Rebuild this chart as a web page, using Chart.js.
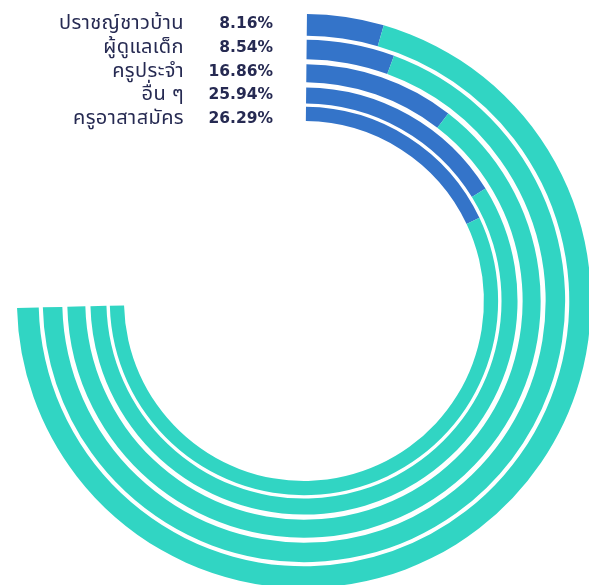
<!DOCTYPE html>
<html>
<head>
<meta charset="utf-8">
<script src="https://cdn.jsdelivr.net/npm/chart.js@4"></script>
<style>
  html, body { margin: 0; padding: 0; background: #fff; }
  body { width: 589px; height: 585px; overflow: hidden; position: relative; font-family: "Noto Sans", sans-serif; }
  #ring { position: absolute; left: 17px; top: 14px; }
  #labels { position: absolute; left: 0; top: 12px; width: 280px; color: #262a52; line-height: 23.75px; }
  .row { position: relative; height: 23.75px; }
  .name { position: absolute; right: 96px; white-space: nowrap; font-family: "Noto Sans Thai", "Noto Sans", sans-serif; font-size: 20px; letter-spacing: 0.4px; }
  .pct { position: absolute; right: 7px; white-space: nowrap; font-family: "DejaVu Sans", sans-serif; font-weight: bold; font-size: 15.5px; }
</style>
</head>
<body>
<canvas id="ring" width="574" height="574"></canvas>
<div id="labels"></div>
<script>
// rings from outside to inside
const categories = ["ปราชญ์ชาวบ้าน", "ผู้ดูแลเด็ก", "ครูประจำ", "อื่น ๆ", "ครูอาสาสมัคร"];
const percentLabels = [8.16, 8.54, 16.86, 25.94, 26.29];
// blue part of each 268° track, in % of the track
const filledShare = [5.8, 7.3, 13.8, 21.5, 23.9];

const blue = "#3474c9";
const teal = "#31d5c3";

// ring thickness and the white gap after each ring
const ringWeights = [21.7, 19.5, 18, 16, 14.2];
const gapWeights = [4.1, 5, 5.1, 3.4];

// labels top left
const box = document.getElementById("labels");
categories.forEach((c, i) => {
  const row = document.createElement("div");
  row.className = "row";
  row.innerHTML = '<span class="name"></span><span class="pct"></span>';
  row.querySelector(".name").textContent = c;
  row.querySelector(".pct").textContent = percentLabels[i].toFixed(2) + "%";
  box.appendChild(row);
});

const datasets = [];
categories.forEach((c, i) => {
  datasets.push({
    label: c,
    data: [filledShare[i], 100 - filledShare[i]],
    backgroundColor: [blue, teal],
    borderWidth: 0,
    weight: ringWeights[i],
  });
  if (i < gapWeights.length) {
    datasets.push({
      label: "",
      data: [100],
      backgroundColor: "rgba(0,0,0,0)",
      borderWidth: 0,
      weight: gapWeights[i],
    });
  }
});

new Chart(document.getElementById("ring").getContext("2d"), {
  type: "doughnut",
  data: { labels: ["filled", "rest"], datasets: datasets },
  options: {
    responsive: false,
    animation: false,
    rotation: 0.6,
    circumference: 268,
    cutout: "62.7%",
    layout: { padding: 0 },
    plugins: {
      legend: { display: false },
      tooltip: { enabled: false },
    },
    events: [],
  },
});
</script>
</body>
</html>
